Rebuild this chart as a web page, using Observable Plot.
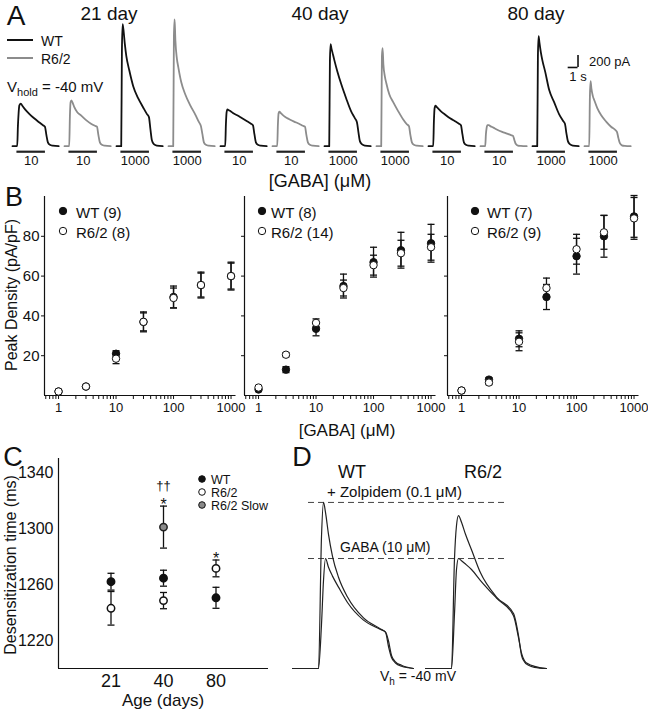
<!DOCTYPE html>
<html><head><meta charset="utf-8">
<script src="https://cdn.jsdelivr.net/npm/d3@7"></script>
<script src="https://cdn.jsdelivr.net/npm/@observablehq/plot@0.6"></script>
<style>
body{margin:0;background:#fff;}
#fig{position:relative;width:648px;height:712px;overflow:hidden;font-family:"Liberation Sans",Arial,sans-serif;color:#111;background:#fff;}
.lbl{position:absolute;white-space:nowrap;line-height:1;}
</style></head><body><div id="fig"></div>
<script>
// ---------- Panel A: example currents ----------
const tA = [0, 0.48, 0.55, 0.62, 0.7, 0.85, 1.0, 1.3, 1.7, 2.2, 2.7, 3.1, 3.3, 3.45, 3.6, 3.8, 4.1, 4.7]; // s
const traceAge  = ["21","21","21","21","40","40","40","40","80","80","80","80"];
const traceGeno = ["WT","R6/2","WT","R6/2","WT","R6/2","WT","R6/2","WT","R6/2","WT","R6/2"];
const traceConc = ["10","10","1000","1000","10","10","1000","1000","10","10","1000","1000"];
const wt21_10    = [0,0,330,550,680,710,675,610,540,465,400,350,325,185,65,25,10,0];
const r62_21_10  = [0,0,500,735,765,715,650,565,510,435,375,340,325,185,65,25,10,0];
const wt21_1000  = [0,0,1585,2035,1950,1700,1500,1265,1000,800,650,535,485,285,100,35,10,0];
const r62_21_1000= [0,0,1835,2115,1765,1465,1315,1065,865,685,535,400,335,200,65,25,10,0];
const wt40_10    = [0,0,365,565,615,600,585,550,515,465,415,375,350,200,65,25,10,0];
const r62_40_10  = [0,0,365,550,575,550,525,485,450,410,375,340,325,185,65,25,10,0];
const wt40_1000  = [0,0,1415,1700,1635,1535,1435,1250,1035,800,585,465,400,235,85,35,10,0];
const r62_40_1000= [0,0,1500,1635,1365,1165,1050,865,735,585,450,365,335,185,65,25,10,0];
const wt80_10    = [0,0,415,635,675,650,625,575,525,465,415,375,350,200,65,25,10,0];
const r62_80_10  = [0,0,200,300,350,350,335,310,275,240,210,185,175,100,35,10,5,0];
const wt80_1000  = [0,0,1500,1835,1735,1565,1435,1235,935,735,535,425,375,215,85,35,10,0];
const r62_80_1000= [0,0,835,1085,965,835,765,635,515,410,325,275,240,135,50,15,5,0];
const gabaWindow = [0.45, 3.35]; // s, drug application bar
const scaleBarPA = 200, scaleBarS = 1;

// ---------- Panel B: concentration-response ----------
const concs = [1, 3, 10, 30, 100, 300, 1000];
const majorTicks = [1, 10, 100, 1000];
const minorTicks = [0.6,0.7,0.8,0.9,2,3,4,5,6,7,8,9,20,30,40,50,60,70,80,90,200,300,400,500,600,700,800,900];
const densTicks = [20, 40, 60, 80];
const wt21 = [2, 4.5, 21, 37, 49.5, 55.5, 60];      const wt21Err = [0.5, 0.5, 1.5, 4.5, 5.5, 6.5, 7];
const r62_21 = [2, 4.5, 18.5, 37, 49, 55.5, 60];    const r62_21Err = [0.5, 0.5, 2.5, 5, 5, 6, 6.5];
const wt40 = [3, 13, 33.5, 55, 67, 73, 76.5];       const wt40Err = [0.5, 1.5, 3.5, 6, 7.5, 9, 9.5];
const r62_40 = [4, 20.5, 36.5, 54, 65.5, 71.5, 74.5]; const r62_40Err = [0.5, 1, 2, 4, 5, 6.5, 6.5];
const wt80 = [2.5, 8, 28.5, 49.5, 70, 80, 90];      const wt80Err = [0.5, 1, 4, 6.3, 9, 10.5, 10.5];
const r62_80 = [2.5, 6.5, 27, 54, 73.5, 82, 89];    const r62_80Err = [0.5, 1, 4.5, 5, 7.5, 8.5, 10.5];

// ---------- Panel C: desensitization ----------
const ages = ["21", "40", "80"];
const descWT = [1262, 1264.5, 1250.5];   const descWTErr = [6, 5.7, 7.5];
const descR62 = [1243, 1248.5, 1271.5];  const descR62Err = [12, 5.8, 6];
const slowAge = ["40"]; const descSlow = [1301]; const descSlowErr = [15];
const cTicks = [1220, 1260, 1300, 1340];

// ---------- Panel D: zolpidem ----------
const tD = [0, 1.3, 1.45, 1.55, 1.65, 1.8, 2.0, 2.3, 2.75, 3.55, 4.4, 4.65, 4.8, 4.95, 5.15, 5.45, 6.05];
const wtGabaD  = [0,0,0.4,0.8,1.0,0.92,0.84,0.74,0.6,0.44,0.355,0.33,0.25,0.12,0.06,0.03,0];
const wtZolpD  = [0,0,1.2,1.51,1.42,1.22,1.02,0.83,0.65,0.46,0.36,0.33,0.2,0.1,0.05,0.02,0];
const r62GabaD = [0,0,0.5,0.9,1.0,0.98,0.95,0.9,0.8,0.64,0.48,0.28,0.14,0.07,0.04,0.02,0];
const r62ZolpD = [0,0,1.0,1.3,1.39,1.33,1.22,1.08,0.87,0.65,0.5,0.3,0.12,0.06,0.03,0.01,0];

// ================= drawing =================
const FONT = "'Liberation Sans', Arial, sans-serif";
const fig = document.getElementById("fig");
function mount(svg, left, top) {
  svg.style.position = "absolute"; svg.style.left = left + "px"; svg.style.top = top + "px";
  fig.appendChild(svg);
}
function label(html, x, y, size, anchor = "middle", rotate = 0) {
  const d = document.createElement("div");
  d.className = "lbl"; d.innerHTML = html;
  d.style.left = x + "px"; d.style.top = y + "px"; d.style.fontSize = size + "px";
  const tx = anchor === "middle" ? "-50%" : anchor === "end" ? "-100%" : "0";
  d.style.transform = `translate(${tx},-50%)` + (rotate ? ` rotate(${rotate}deg)` : "");
  fig.appendChild(d);
}
function legendDot(x, y, fill, r = 3.7) {
  const ns = "http://www.w3.org/2000/svg";
  const s = document.createElementNS(ns, "svg");
  s.setAttribute("width", 12); s.setAttribute("height", 12);
  s.style.position = "absolute"; s.style.left = (x - 6) + "px"; s.style.top = (y - 6) + "px";
  const c = document.createElementNS(ns, "circle");
  c.setAttribute("cx", 6); c.setAttribute("cy", 6); c.setAttribute("r", r);
  c.setAttribute("fill", fill); c.setAttribute("stroke", "#111"); c.setAttribute("stroke-width", 1);
  s.appendChild(c); fig.appendChild(s);
}
function legendLine(x, y, w, color) {
  const d = document.createElement("div");
  d.style.cssText = `position:absolute;left:${x}px;top:${y - 1}px;width:${w}px;height:2px;background:${color};`;
  fig.appendChild(d);
}
const baseStyle = {background: "transparent", overflow: "visible", fontFamily: FONT, fontSize: "13px", color: "#111"};
const capSymbol = {draw(ctx, size) { const r = Math.sqrt(size / Math.PI); ctx.moveTo(-r, 0); ctx.lineTo(r, 0); }};
const plain = d => String(d);

// ----- Panel A -----
const traces = [wt21_10, r62_21_10, wt21_1000, r62_21_1000, wt40_10, r62_40_10, wt40_1000, r62_40_1000, wt80_10, r62_80_10, wt80_1000, r62_80_1000];
const aRows = [];
traces.forEach((amps, k) => amps.forEach((v, i) => aRows.push({k, t: tA[i], pA: v, geno: traceGeno[k]})));
const aBars = traceConc.map((c, k) => ({k, c}));
const aPlot = Plot.plot({
  width: 648, height: 190, marginLeft: 6.7, marginRight: 6.5, marginTop: 0, marginBottom: 0,
  style: baseStyle,
  x: {domain: [0, 5.29], axis: null},
  y: {domain: [-738, 2428], axis: null},
  fx: {domain: d3.range(12), padding: 0, axis: null},
  color: {domain: ["WT", "R6/2"], range: ["#111111", "#8c8c8c"]},
  marks: [
    Plot.line(aRows, {fx: "k", x: "t", y: "pA", z: "k", stroke: "geno", strokeWidth: 1.8, curve: "monotone-x"}),
    Plot.ruleY(aBars, {fx: "k", y: 0, x1: gabaWindow[0], x2: gabaWindow[1], dy: 5.5, stroke: "#222", strokeWidth: 2.2}),
    Plot.text(aBars, {fx: "k", x: (gabaWindow[0] + gabaWindow[1]) / 2, y: 0, text: "c", dy: 15, fontSize: 13}),
    Plot.ruleX([{k: 10}], {fx: "k", x: 4.63, y1: 1312, y2: 1312 + scaleBarPA, stroke: "#111", strokeWidth: 1.6}),
    Plot.ruleY([{k: 10}], {fx: "k", y: 1312, x1: 4.63 - scaleBarS, x2: 4.63, stroke: "#111", strokeWidth: 1.6})
  ]
});
mount(aPlot, 0, 0);
label("A", 16, 16, 28);
label("21 day", 109, 13, 19);
label("40 day", 320, 13, 19);
label("80 day", 536, 13, 19);
legendLine(7, 40, 26, "#111"); label("WT", 41, 41, 14, "start");
legendLine(7, 58, 26, "#8c8c8c"); label("R6/2", 41, 59, 14, "start");
label("V<sub style='font-size:11px;vertical-align:-4px'>hold</sub> = -40 mV", 7, 88, 15, "start");
label(`${scaleBarPA} pA`, 589, 61, 13, "start");
label(`${scaleBarS} s`, 578, 76, 13);
label("[GABA] (&mu;M)", 320, 181, 18);

// ----- Panel B -----
function densityPlot(wt, wtErr, r62, r62Err, showLabels) {
  const wtRows = concs.map((c, i) => ({c, m: wt[i], e: wtErr[i]}));
  const rRows = concs.map((c, i) => ({c, m: r62[i], e: r62Err[i]}));
  const all = wtRows.concat(rRows);
  return Plot.plot({
    width: 240, height: 230, marginLeft: 44, marginRight: 4.5, marginTop: 6, marginBottom: 25,
    style: baseStyle,
    x: {type: "log", domain: [0.57, 1220]},
    y: {domain: [0, 100]},
    marks: [
      Plot.ruleY([0], {stroke: "#111", strokeWidth: 1.2}),
      Plot.ruleX([0.57], {stroke: "#111", strokeWidth: 1.2}),
      Plot.axisY({ticks: densTicks, tickSize: 3, tickPadding: 2, fontSize: 15, label: null,
                  tickFormat: showLabels ? plain : (() => "")}),
      Plot.axisX({ticks: majorTicks, tickSize: 4, tickPadding: 3, fontSize: 13, label: null, tickFormat: plain}),
      Plot.axisX({ticks: minorTicks, tickSize: 4, label: null, tickFormat: () => ""}),
      Plot.ruleX(all, {x: "c", y1: d => d.m - d.e, y2: d => d.m + d.e, stroke: "#111", strokeWidth: 1.3}),
      Plot.dot(all, {x: "c", y: d => d.m + d.e, symbol: capSymbol, r: 3.5, stroke: "#111", strokeWidth: 1.3}),
      Plot.dot(all, {x: "c", y: d => d.m - d.e, symbol: capSymbol, r: 3.5, stroke: "#111", strokeWidth: 1.3}),
      Plot.dot(wtRows, {x: "c", y: "m", r: 3.7, fill: "#111", stroke: "#111", strokeWidth: 1}),
      Plot.dot(rRows, {x: "c", y: "m", r: 3.7, fill: "white", stroke: "#111", strokeWidth: 1})
    ]
  });
}
mount(densityPlot(wt21, wt21Err, r62_21, r62_21Err, true), 0, 190);
mount(densityPlot(wt40, wt40Err, r62_40, r62_40Err, false), 200, 190);
mount(densityPlot(wt80, wt80Err, r62_80, r62_80Err, false), 403, 190);
label("B", 14, 197, 27);
label("Peak Density (pA/pF)", 12, 295, 16, "middle", -90);
label("[GABA] (&mu;M)", 347, 430, 17);
[[63, 76, "WT (9)", "R6/2 (8)"], [262, 271, "WT (8)", "R6/2 (14)"], [475, 487, "WT (7)", "R6/2 (9)"]].forEach(([cx, tx, a, b]) => {
  legendDot(cx, 211, "#111"); label(a, tx, 212, 15, "start");
  legendDot(cx, 231, "#fff"); label(b, tx, 232, 15, "start");
});

// ----- Panel C -----
const cWT = ages.map((a, i) => ({xi: i + 1, m: descWT[i], e: descWTErr[i]}));
const cR = ages.map((a, i) => ({xi: i + 1, m: descR62[i], e: descR62Err[i]}));
const cS = slowAge.map((a, i) => ({xi: ages.indexOf(a) + 1, m: descSlow[i], e: descSlowErr[i]}));
const cAll = cWT.concat(cR, cS);
const cPlot = Plot.plot({
  width: 290, height: 272, marginLeft: 58, marginRight: 22, marginTop: 18, marginBottom: 44,
  style: baseStyle,
  x: {domain: [0, 4]},
  y: {domain: [1200, 1350]},
  marks: [
    Plot.ruleY([1200], {stroke: "#111", strokeWidth: 1.2}),
    Plot.ruleX([0], {stroke: "#111", strokeWidth: 1.2}),
    Plot.axisY({ticks: cTicks, tickSize: 0, tickPadding: 5, fontSize: 16, label: null, tickFormat: plain}),
    Plot.axisX({ticks: [1, 2, 3], tickSize: 0, tickPadding: 6, fontSize: 18, label: null, tickFormat: i => ages[i - 1]}),
    Plot.ruleX(cAll, {x: "xi", y1: d => d.m - d.e, y2: d => d.m + d.e, stroke: "#111", strokeWidth: 1.3}),
    Plot.dot(cAll, {x: "xi", y: d => d.m + d.e, symbol: capSymbol, r: 3.5, stroke: "#111", strokeWidth: 1.3}),
    Plot.dot(cAll, {x: "xi", y: d => d.m - d.e, symbol: capSymbol, r: 3.5, stroke: "#111", strokeWidth: 1.3}),
    Plot.dot(cWT, {x: "xi", y: "m", r: 3.7, fill: "#111", stroke: "#111"}),
    Plot.dot(cR, {x: "xi", y: "m", r: 3.7, fill: "white", stroke: "#111"}),
    Plot.dot(cS, {x: "xi", y: "m", r: 3.7, fill: "#8a8a8a", stroke: "#222"}),
    Plot.text(cS, {x: "xi", y: d => d.m + d.e, text: () => "*", dy: -1, fontSize: 16}),
    Plot.text(cS, {x: "xi", y: d => d.m + d.e, text: () => "\u2020\u2020", dy: -20, fontSize: 13}),
    Plot.text([cR[2]], {x: "xi", y: d => d.m + d.e, text: () => "*", dy: -1.5, fontSize: 16})
  ]
});
mount(cPlot, 0, 440);
label("C", 13, 457, 27);
label("Desensitization time (ms)", 11, 565, 16, "middle", -90);
label("Age (days)", 163, 700, 17);
legendDot(202, 479, "#111", 3.3); label("WT", 211, 480, 12.5, "start");
legendDot(202, 492, "#fff", 3.3); label("R6/2", 211, 493, 12.5, "start");
legendDot(202, 505, "#8a8a8a", 3.3); label("R6/2 Slow", 211, 506, 12.5, "start");

// ----- Panel D -----
const dRows = [];
[[0, "GABA", wtGabaD], [0, "Zolp", wtZolpD], [1, "GABA", r62GabaD], [1, "Zolp", r62ZolpD]].forEach(([k, c, arr]) =>
  arr.forEach((v, i) => dRows.push({k, c, id: k + c, t: tD[i], amp: v})));
const refLevels = [{k: 0, v: d3.max(wtZolpD)}, {k: 0, v: d3.max(wtGabaD)}];
const dPlot = Plot.plot({
  width: 368, height: 272, marginLeft: 12, marginRight: 90, marginTop: 0, marginBottom: 0,
  style: baseStyle,
  x: {domain: [0, 6.65], axis: null},
  y: {domain: [-0.4, 2.073], axis: null},
  fx: {domain: [0, 1], padding: 0, axis: null},
  marks: [
    Plot.ruleY(refLevels, {fx: "k", y: "v", x1: 0.8, x2: 10.8, stroke: "#444", strokeWidth: 1, strokeDasharray: "6,4"}),
    Plot.line(dRows, {fx: "k", x: "t", y: "amp", z: "id", stroke: "#222", strokeWidth: 1.2, curve: "monotone-x"})
  ]
});
mount(dPlot, 280, 440);
label("D", 302, 457, 27);
label("WT", 352, 472, 18);
label("R6/2", 483, 472, 18);
label("+ Zolpidem (0.1 &mu;M)", 327, 491, 15, "start");
label("GABA (10 &mu;M)", 340, 547, 14, "start");
label("V<sub style='font-size:10px;vertical-align:-4px'>h</sub> = -40 mV", 380, 678, 14, "start");
</script></body></html>
